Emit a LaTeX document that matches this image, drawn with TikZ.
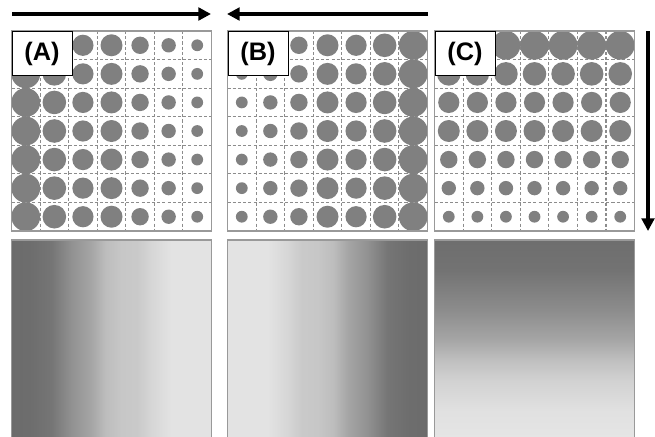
\documentclass[tikz,border=0pt]{standalone}
\usepackage{fontspec}
\setsansfont{Liberation Sans}
\usepackage{xcolor}
\usetikzlibrary{arrows.meta,positioning}
\definecolor{dotgray}{HTML}{808080}
\definecolor{linegray}{HTML}{8C8C8C}
\definecolor{panegray}{HTML}{999999}
\pgfdeclarehorizontalshading{fadeA}{100bp}{color(0bp)=(black!58); color(25bp)=(black!58); color(30bp)=(black!57); color(35bp)=(black!54); color(40bp)=(black!43); color(45bp)=(black!35); color(48.5bp)=(black!26); color(52.5bp)=(black!22); color(56.5bp)=(black!21); color(60bp)=(black!16); color(65bp)=(black!11); color(75bp)=(black!11); color(100bp)=(black!11)}
\pgfdeclarehorizontalshading{fadeB}{100bp}{color(0bp)=(black!11); color(25bp)=(black!11); color(35bp)=(black!11); color(40bp)=(black!16); color(43.5bp)=(black!21); color(47.5bp)=(black!22); color(51.5bp)=(black!26); color(55bp)=(black!35); color(60bp)=(black!43); color(65bp)=(black!54); color(70bp)=(black!57); color(75bp)=(black!58); color(100bp)=(black!58)}
\pgfdeclareverticalshading{fadeC}{100bp}{color(0bp)=(black!10); color(25bp)=(black!10); color(32.5bp)=(black!12); color(40bp)=(black!18); color(45bp)=(black!25); color(50bp)=(black!35); color(57.5bp)=(black!45); color(67.5bp)=(black!55); color(75bp)=(black!57); color(100bp)=(black!57)}

\begin{document}
\begin{tikzpicture}[x=0.025cm,y=-0.025cm,
  cell/.style={draw=linegray,dash pattern=on 2.2pt off 1.5pt,line width=0.8pt},
  pane/.style={draw=panegray,line width=1.3pt},
  dot/.style={fill=dotgray,draw=none},
  tag/.style={draw=black,fill=white,line width=0.7pt,minimum width=1.5cm,minimum height=1.1cm,anchor=north west,inner sep=0pt,font=\sffamily\bfseries\fontsize{18}{20}\selectfont},
  ar/.style={-{Triangle[length=9pt,width=9pt]},line width=2.6pt,black}]
\useasboundingbox (0,0) rectangle (655,436);
% dashed cells
\foreach \px in {11.5,227.5,434.5}{
  \foreach \i in {1,...,6}{
    \draw[cell] (\px+\i*200/7,31) -- (\px+\i*200/7,231);
    \draw[cell] (\px,31+\i*200/7) -- (\px+200,31+\i*200/7);
  }
}
% dots: size falls along the arrow
\foreach \c in {0,...,6}{
  \foreach \r in {0,...,6}{
    \pgfmathsetmacro\radA{{14.4,11.8,10.6,11,8.7,7.2,5.9}[\c]}
    \pgfmathsetmacro\radB{{14.4,11.8,10.6,11,8.7,7.2,5.9}[6-\c]}
    \pgfmathsetmacro\radC{{14.4,11.8,10.6,11,8.7,7.2,5.9}[\r]}
    \fill[dot] (11.5+\c*200/7+100/7,31+\r*200/7+100/7) circle[radius=\radA];
    \fill[dot] (227.5+\c*200/7+100/7,31+\r*200/7+100/7) circle[radius=\radB];
    \fill[dot] (434.5+\c*200/7+100/7,31+\r*200/7+100/7) circle[radius=\radC];
  }
}
\draw[pane] (11.5,31) rectangle (211.5,231);
\draw[pane] (227.5,31) rectangle (427.5,231);
\draw[pane] (434.5,31) rectangle (634.5,231);
\node[tag] (labA) at (11.5,31) {(A)};
\node[tag] (labB) at (227.5,31) {(B)};
\node[tag] (labC) at (434.5,31) {(C)};
% gradients
\shadedraw[pane,shading=fadeA] (11.5,240) rectangle (211.5,440);
\shadedraw[pane,shading=fadeB] (227.5,240) rectangle (427.5,440);
\shadedraw[pane,shading=fadeC] (434.5,240) rectangle (634.5,440);
% arrows
\coordinate (a0) at (12,14);
\coordinate (a1) at (211,14);
\coordinate (b0) at (428,14);
\coordinate (b1) at (227,14);
\coordinate (c0) at (648,31);
\coordinate (c1) at (648,231);
\draw[ar] (a0) -- (a1);
\draw[ar] (b0) -- (b1);
\draw[ar] (c0) -- (c1);
\end{tikzpicture}
\end{document}
